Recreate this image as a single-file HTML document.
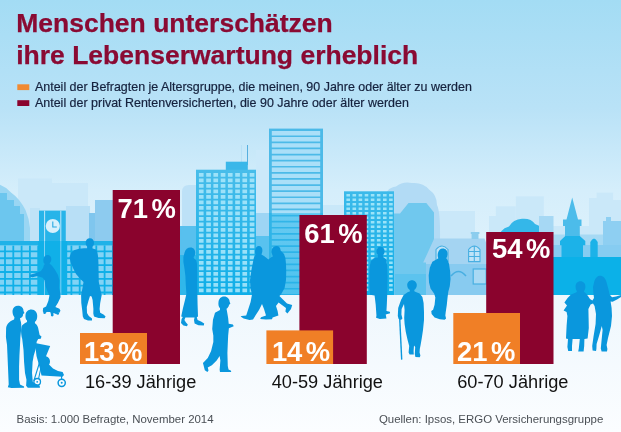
<!DOCTYPE html>
<html lang="de">
<head>
<meta charset="utf-8">
<title>Menschen unterschätzen ihre Lebenserwartung erheblich</title>
<style>
html,body{margin:0;padding:0;background:#fff;}
body{width:621px;height:432px;overflow:hidden;}
svg{display:block;}
text{font-family:"Liberation Sans","DejaVu Sans",sans-serif;}
.t{font-weight:bold;font-size:26.5px;fill:#8a0a33;stroke:#8a0a33;stroke-width:0.25px;}
.lg{font-size:12.46px;fill:#15223e;stroke:#15223e;stroke-width:0.2px;}
.pv{font-weight:bold;font-size:27.4px;fill:#fff;}
.ax{font-size:18.7px;fill:#111;}
.ft{font-size:11.45px;fill:#4a4f55;}
</style>
</head>
<body>
<svg width="621" height="432" viewBox="0 0 621 432">
<defs>
<linearGradient id="sky" x1="0" y1="0" x2="0" y2="432" gradientUnits="userSpaceOnUse">
<stop offset="0" stop-color="#a3dcf4"/>
<stop offset="0.25" stop-color="#b9e2f7"/>
<stop offset="0.44" stop-color="#d5eefb"/>
<stop offset="0.6" stop-color="#dff2fc"/>
<stop offset="1" stop-color="#e6f4fc"/>
</linearGradient>
</defs>
<rect width="621" height="432" fill="url(#sky)"/>
<g id="city">
<rect x="18" y="178.5" width="34" height="120" fill="#cae8f9"/>
<rect x="52" y="183" width="36" height="120" fill="#cae8f9"/>
<rect x="30" y="208" width="10" height="90" fill="#c0e3f7"/>
<rect x="66" y="206" width="24" height="90" fill="#b8dff6"/>
<path d="M182 296 L182 192 Q182 185 189 185 L198 185 L198 296 Z" fill="#bde1f7"/>
<rect x="322" y="205" width="24" height="90" fill="#c9e8f9"/>
<rect x="256" y="150" width="14" height="150" fill="#cbe9fa"/>
<rect x="489" y="216" width="8" height="80" fill="#cae8f9"/>
<rect x="495.8" y="206.3" width="20" height="90" fill="#cae8f9"/>
<rect x="515.8" y="196.3" width="28" height="100" fill="#cae8f9"/>
<rect x="435" y="211" width="40" height="30" fill="#cae8f9"/>
<rect x="589" y="198" width="8" height="100" fill="#cae8f9"/>
<rect x="596.6" y="192.6" width="16.5" height="100" fill="#cae8f9"/>
<rect x="613" y="200" width="8" height="100" fill="#cae8f9"/>
<rect x="553" y="226" width="36" height="30" fill="#cbe8f9"/>
<rect x="553" y="234.5" width="50" height="12" fill="#a6d9f4"/>
<path d="M0 184.7 Q6 187 11 192.4 Q16 196 19 200 Q23 205 25.5 210 Q29 218 30 228 L30 242 L0 242 Z" fill="#9ad6f3"/>
<path d="M0 193 L7 193 L7 200 L14 200 L14 206 L20 206 L20 214 L24 214 L24 242 L0 242 Z" fill="#6cc6ee"/>
<path d="M384.5 240 L384.5 200 Q385 188 396 186.5 Q403 181 412 183 Q423 182 429 189.5 Q437 195 437 205 Q440.5 212 440 240 Z" fill="#b2dbf5"/>
<path d="M498.4 240 Q499 229 509 226.5 Q513 219.5 522 218.8 Q531 218 535 224 Q544 226 544.7 238 L544.7 250 L498.4 250 Z" fill="#34b7e9"/>
<rect x="539" y="216" width="14.5" height="30" fill="#a6d8f4"/>
<rect x="89" y="213" width="8" height="82" fill="#7fc6ee"/>
<rect x="95" y="200" width="18" height="95" fill="#8dcbef"/>
<rect x="180" y="226" width="18" height="70" fill="#58c0ee"/>
<rect x="180" y="255" width="18" height="41" fill="#30b7ea"/>
<rect x="256" y="213" width="14" height="83" fill="#9dd5f4"/>
<rect x="256" y="236" width="14" height="60" fill="#58c2ef"/>
<rect x="603" y="221" width="18" height="75" fill="#8ecff2"/>
<rect x="606" y="217" width="5" height="5" fill="#8ecff2"/>
<path d="M393.8 296 L393.8 213.5 L400 213.5 L408.5 203 L426.3 203 L434 212.5 L434 296 Z" fill="#70c8ee"/>
<rect x="394.7" y="274" width="92" height="22" fill="#5cc3ee"/>
<path d="M423.2 262.6 L434.2 238.6 L484.5 238.6 L486.2 243 L486.2 296 L426 296 L426 262.6 Z" fill="#a4d4f2"/>
<path d="M470.8 231.9 H479.4 V234 H478.5 V239 H471.6 V234 H470.8 Z" fill="#8ccdee"/>
<rect x="426" y="264" width="61" height="32" fill="#88cbf0"/>
<rect x="553" y="256.5" width="68" height="39" fill="#0bb1e8"/>
<rect x="553" y="245" width="68" height="12" fill="#86ccf1"/>
<path d="M572.2 197.5 L578 219.5 L581.5 219.5 L581.5 226 L579.8 226 L579.8 241 L565 241 L565 226 L563 226 L563 219.5 L566.5 219.5 Z" fill="#4cbcea"/>
<path d="M565.3 236 L579.8 236 L585.3 241 L585.3 245.2 L583 245.2 L583 257 L561.5 257 L561.5 245.2 L560 245.2 L560 241 Z" fill="#1cb2e8"/>
<path d="M590.3 257 L590.3 242 Q594 235 597.7 242 L597.7 257 Z" fill="#1cb2e8"/>
<rect x="39" y="210.6" width="26.8" height="85" fill="#27b4e9"/>
<rect x="44.1" y="210.6" width="1" height="85" fill="#bfe6fa"/>
<rect x="60.3" y="210.6" width="1" height="85" fill="#bfe6fa"/>
<circle cx="52.8" cy="226" r="7.1" fill="#d8f0fc"/>
<path d="M52.8 221.4 V227 H56.8" stroke="#27a8e2" stroke-width="1.1" fill="none"/>
<rect x="0" y="241" width="113" height="4.5" fill="#1fb2e8"/>
<rect x="0" y="245.5" width="113" height="49.5" fill="#10b0e8"/>
<path d="M-2.4 245.5h6.5v5.0h-6.5zM5.9 245.5h6.5v5.0h-6.5zM14.2 245.5h6.5v5.0h-6.5zM22.5 245.5h6.5v5.0h-6.5zM30.8 245.5h6.5v5.0h-6.5zM39.1 245.5h6.5v5.0h-6.5zM47.4 245.5h6.5v5.0h-6.5zM55.7 245.5h6.5v5.0h-6.5zM64.0 245.5h6.5v5.0h-6.5zM72.3 245.5h6.5v5.0h-6.5zM80.6 245.5h6.5v5.0h-6.5zM88.9 245.5h6.5v5.0h-6.5zM97.2 245.5h6.5v5.0h-6.5zM105.5 245.5h6.5v5.0h-6.5zM-2.4 252.3h6.5v5.0h-6.5zM5.9 252.3h6.5v5.0h-6.5zM14.2 252.3h6.5v5.0h-6.5zM22.5 252.3h6.5v5.0h-6.5zM30.8 252.3h6.5v5.0h-6.5zM39.1 252.3h6.5v5.0h-6.5zM47.4 252.3h6.5v5.0h-6.5zM55.7 252.3h6.5v5.0h-6.5zM64.0 252.3h6.5v5.0h-6.5zM72.3 252.3h6.5v5.0h-6.5zM80.6 252.3h6.5v5.0h-6.5zM88.9 252.3h6.5v5.0h-6.5zM97.2 252.3h6.5v5.0h-6.5zM105.5 252.3h6.5v5.0h-6.5zM-2.4 259.2h6.5v5.0h-6.5zM5.9 259.2h6.5v5.0h-6.5zM14.2 259.2h6.5v5.0h-6.5zM22.5 259.2h6.5v5.0h-6.5zM30.8 259.2h6.5v5.0h-6.5zM39.1 259.2h6.5v5.0h-6.5zM47.4 259.2h6.5v5.0h-6.5zM55.7 259.2h6.5v5.0h-6.5zM64.0 259.2h6.5v5.0h-6.5zM72.3 259.2h6.5v5.0h-6.5zM80.6 259.2h6.5v5.0h-6.5zM88.9 259.2h6.5v5.0h-6.5zM97.2 259.2h6.5v5.0h-6.5zM105.5 259.2h6.5v5.0h-6.5zM-2.4 266.1h6.5v5.0h-6.5zM5.9 266.1h6.5v5.0h-6.5zM14.2 266.1h6.5v5.0h-6.5zM22.5 266.1h6.5v5.0h-6.5zM30.8 266.1h6.5v5.0h-6.5zM39.1 266.1h6.5v5.0h-6.5zM47.4 266.1h6.5v5.0h-6.5zM55.7 266.1h6.5v5.0h-6.5zM64.0 266.1h6.5v5.0h-6.5zM72.3 266.1h6.5v5.0h-6.5zM80.6 266.1h6.5v5.0h-6.5zM88.9 266.1h6.5v5.0h-6.5zM97.2 266.1h6.5v5.0h-6.5zM105.5 266.1h6.5v5.0h-6.5zM-2.4 272.9h6.5v5.0h-6.5zM5.9 272.9h6.5v5.0h-6.5zM14.2 272.9h6.5v5.0h-6.5zM22.5 272.9h6.5v5.0h-6.5zM30.8 272.9h6.5v5.0h-6.5zM39.1 272.9h6.5v5.0h-6.5zM47.4 272.9h6.5v5.0h-6.5zM55.7 272.9h6.5v5.0h-6.5zM64.0 272.9h6.5v5.0h-6.5zM72.3 272.9h6.5v5.0h-6.5zM80.6 272.9h6.5v5.0h-6.5zM88.9 272.9h6.5v5.0h-6.5zM97.2 272.9h6.5v5.0h-6.5zM105.5 272.9h6.5v5.0h-6.5zM-2.4 279.8h6.5v5.0h-6.5zM5.9 279.8h6.5v5.0h-6.5zM14.2 279.8h6.5v5.0h-6.5zM22.5 279.8h6.5v5.0h-6.5zM30.8 279.8h6.5v5.0h-6.5zM39.1 279.8h6.5v5.0h-6.5zM47.4 279.8h6.5v5.0h-6.5zM55.7 279.8h6.5v5.0h-6.5zM64.0 279.8h6.5v5.0h-6.5zM72.3 279.8h6.5v5.0h-6.5zM80.6 279.8h6.5v5.0h-6.5zM88.9 279.8h6.5v5.0h-6.5zM97.2 279.8h6.5v5.0h-6.5zM105.5 279.8h6.5v5.0h-6.5zM-2.4 286.6h6.5v5.0h-6.5zM5.9 286.6h6.5v5.0h-6.5zM14.2 286.6h6.5v5.0h-6.5zM22.5 286.6h6.5v5.0h-6.5zM30.8 286.6h6.5v5.0h-6.5zM39.1 286.6h6.5v5.0h-6.5zM47.4 286.6h6.5v5.0h-6.5zM55.7 286.6h6.5v5.0h-6.5zM64.0 286.6h6.5v5.0h-6.5zM72.3 286.6h6.5v5.0h-6.5zM80.6 286.6h6.5v5.0h-6.5zM88.9 286.6h6.5v5.0h-6.5zM97.2 286.6h6.5v5.0h-6.5zM105.5 286.6h6.5v5.0h-6.5zM-2.4 293.5h6.5v1.5h-6.5zM5.9 293.5h6.5v1.5h-6.5zM14.2 293.5h6.5v1.5h-6.5zM22.5 293.5h6.5v1.5h-6.5zM30.8 293.5h6.5v1.5h-6.5zM39.1 293.5h6.5v1.5h-6.5zM47.4 293.5h6.5v1.5h-6.5zM55.7 293.5h6.5v1.5h-6.5zM64.0 293.5h6.5v1.5h-6.5zM72.3 293.5h6.5v1.5h-6.5zM80.6 293.5h6.5v1.5h-6.5zM88.9 293.5h6.5v1.5h-6.5zM97.2 293.5h6.5v1.5h-6.5zM105.5 293.5h6.5v1.5h-6.5z" fill="#82d3f5"/>
<rect x="38.2" y="241" width="29" height="55" fill="#10b0e8"/>
<rect x="44" y="241" width="1" height="55" fill="#7fd0f5"/>
<rect x="60.3" y="241" width="1" height="55" fill="#7fd0f5"/>
<linearGradient id="gA" x1="0" y1="0" x2="0" y2="1"><stop offset="0" stop-color="#48bdea"/><stop offset="1" stop-color="#0eaee8"/></linearGradient>
<rect x="241.2" y="145" width="0.5" height="20" fill="#a9d8f2"/>
<rect x="247.1" y="145" width="0.9" height="20" fill="#4aa9dc"/>
<rect x="225.8" y="161.7" width="22" height="9" fill="#3ab7e9"/>
<rect x="196" y="169.7" width="60" height="125.3" fill="url(#gA)"/>
<path d="M198.9 173.0h4.7v3.7h-4.7zM206.2 173.0h4.7v3.7h-4.7zM213.4 173.0h4.7v3.7h-4.7zM220.7 173.0h4.7v3.7h-4.7zM227.9 173.0h4.7v3.7h-4.7zM235.2 173.0h4.7v3.7h-4.7zM242.4 173.0h4.7v3.7h-4.7zM249.7 173.0h4.7v3.7h-4.7zM198.9 178.5h4.7v3.7h-4.7zM206.2 178.5h4.7v3.7h-4.7zM213.4 178.5h4.7v3.7h-4.7zM220.7 178.5h4.7v3.7h-4.7zM227.9 178.5h4.7v3.7h-4.7zM235.2 178.5h4.7v3.7h-4.7zM242.4 178.5h4.7v3.7h-4.7zM249.7 178.5h4.7v3.7h-4.7zM198.9 184.0h4.7v3.7h-4.7zM206.2 184.0h4.7v3.7h-4.7zM213.4 184.0h4.7v3.7h-4.7zM220.7 184.0h4.7v3.7h-4.7zM227.9 184.0h4.7v3.7h-4.7zM235.2 184.0h4.7v3.7h-4.7zM242.4 184.0h4.7v3.7h-4.7zM249.7 184.0h4.7v3.7h-4.7zM198.9 189.5h4.7v3.7h-4.7zM206.2 189.5h4.7v3.7h-4.7zM213.4 189.5h4.7v3.7h-4.7zM220.7 189.5h4.7v3.7h-4.7zM227.9 189.5h4.7v3.7h-4.7zM235.2 189.5h4.7v3.7h-4.7zM242.4 189.5h4.7v3.7h-4.7zM249.7 189.5h4.7v3.7h-4.7zM198.9 195.0h4.7v3.7h-4.7zM206.2 195.0h4.7v3.7h-4.7zM213.4 195.0h4.7v3.7h-4.7zM220.7 195.0h4.7v3.7h-4.7zM227.9 195.0h4.7v3.7h-4.7zM235.2 195.0h4.7v3.7h-4.7zM242.4 195.0h4.7v3.7h-4.7zM249.7 195.0h4.7v3.7h-4.7zM198.9 200.5h4.7v3.7h-4.7zM206.2 200.5h4.7v3.7h-4.7zM213.4 200.5h4.7v3.7h-4.7zM220.7 200.5h4.7v3.7h-4.7zM227.9 200.5h4.7v3.7h-4.7zM235.2 200.5h4.7v3.7h-4.7zM242.4 200.5h4.7v3.7h-4.7zM249.7 200.5h4.7v3.7h-4.7zM198.9 206.0h4.7v3.7h-4.7zM206.2 206.0h4.7v3.7h-4.7zM213.4 206.0h4.7v3.7h-4.7zM220.7 206.0h4.7v3.7h-4.7zM227.9 206.0h4.7v3.7h-4.7zM235.2 206.0h4.7v3.7h-4.7zM242.4 206.0h4.7v3.7h-4.7zM249.7 206.0h4.7v3.7h-4.7zM198.9 211.5h4.7v3.7h-4.7zM206.2 211.5h4.7v3.7h-4.7zM213.4 211.5h4.7v3.7h-4.7zM220.7 211.5h4.7v3.7h-4.7zM227.9 211.5h4.7v3.7h-4.7zM235.2 211.5h4.7v3.7h-4.7zM242.4 211.5h4.7v3.7h-4.7zM249.7 211.5h4.7v3.7h-4.7zM198.9 217.0h4.7v3.7h-4.7zM206.2 217.0h4.7v3.7h-4.7zM213.4 217.0h4.7v3.7h-4.7zM220.7 217.0h4.7v3.7h-4.7zM227.9 217.0h4.7v3.7h-4.7zM235.2 217.0h4.7v3.7h-4.7zM242.4 217.0h4.7v3.7h-4.7zM249.7 217.0h4.7v3.7h-4.7zM198.9 222.5h4.7v3.7h-4.7zM206.2 222.5h4.7v3.7h-4.7zM213.4 222.5h4.7v3.7h-4.7zM220.7 222.5h4.7v3.7h-4.7zM227.9 222.5h4.7v3.7h-4.7zM235.2 222.5h4.7v3.7h-4.7zM242.4 222.5h4.7v3.7h-4.7zM249.7 222.5h4.7v3.7h-4.7zM198.9 228.0h4.7v3.7h-4.7zM206.2 228.0h4.7v3.7h-4.7zM213.4 228.0h4.7v3.7h-4.7zM220.7 228.0h4.7v3.7h-4.7zM227.9 228.0h4.7v3.7h-4.7zM235.2 228.0h4.7v3.7h-4.7zM242.4 228.0h4.7v3.7h-4.7zM249.7 228.0h4.7v3.7h-4.7zM198.9 233.5h4.7v3.7h-4.7zM206.2 233.5h4.7v3.7h-4.7zM213.4 233.5h4.7v3.7h-4.7zM220.7 233.5h4.7v3.7h-4.7zM227.9 233.5h4.7v3.7h-4.7zM235.2 233.5h4.7v3.7h-4.7zM242.4 233.5h4.7v3.7h-4.7zM249.7 233.5h4.7v3.7h-4.7zM198.9 239.0h4.7v3.7h-4.7zM206.2 239.0h4.7v3.7h-4.7zM213.4 239.0h4.7v3.7h-4.7zM220.7 239.0h4.7v3.7h-4.7zM227.9 239.0h4.7v3.7h-4.7zM235.2 239.0h4.7v3.7h-4.7zM242.4 239.0h4.7v3.7h-4.7zM249.7 239.0h4.7v3.7h-4.7zM198.9 244.5h4.7v3.7h-4.7zM206.2 244.5h4.7v3.7h-4.7zM213.4 244.5h4.7v3.7h-4.7zM220.7 244.5h4.7v3.7h-4.7zM227.9 244.5h4.7v3.7h-4.7zM235.2 244.5h4.7v3.7h-4.7zM242.4 244.5h4.7v3.7h-4.7zM249.7 244.5h4.7v3.7h-4.7zM198.9 250.0h4.7v3.7h-4.7zM206.2 250.0h4.7v3.7h-4.7zM213.4 250.0h4.7v3.7h-4.7zM220.7 250.0h4.7v3.7h-4.7zM227.9 250.0h4.7v3.7h-4.7zM235.2 250.0h4.7v3.7h-4.7zM242.4 250.0h4.7v3.7h-4.7zM249.7 250.0h4.7v3.7h-4.7zM198.9 255.5h4.7v3.7h-4.7zM206.2 255.5h4.7v3.7h-4.7zM213.4 255.5h4.7v3.7h-4.7zM220.7 255.5h4.7v3.7h-4.7zM227.9 255.5h4.7v3.7h-4.7zM235.2 255.5h4.7v3.7h-4.7zM242.4 255.5h4.7v3.7h-4.7zM249.7 255.5h4.7v3.7h-4.7zM198.9 261.0h4.7v3.7h-4.7zM206.2 261.0h4.7v3.7h-4.7zM213.4 261.0h4.7v3.7h-4.7zM220.7 261.0h4.7v3.7h-4.7zM227.9 261.0h4.7v3.7h-4.7zM235.2 261.0h4.7v3.7h-4.7zM242.4 261.0h4.7v3.7h-4.7zM249.7 261.0h4.7v3.7h-4.7zM198.9 266.5h4.7v3.7h-4.7zM206.2 266.5h4.7v3.7h-4.7zM213.4 266.5h4.7v3.7h-4.7zM220.7 266.5h4.7v3.7h-4.7zM227.9 266.5h4.7v3.7h-4.7zM235.2 266.5h4.7v3.7h-4.7zM242.4 266.5h4.7v3.7h-4.7zM249.7 266.5h4.7v3.7h-4.7zM198.9 272.0h4.7v3.7h-4.7zM206.2 272.0h4.7v3.7h-4.7zM213.4 272.0h4.7v3.7h-4.7zM220.7 272.0h4.7v3.7h-4.7zM227.9 272.0h4.7v3.7h-4.7zM235.2 272.0h4.7v3.7h-4.7zM242.4 272.0h4.7v3.7h-4.7zM249.7 272.0h4.7v3.7h-4.7zM198.9 277.5h4.7v3.7h-4.7zM206.2 277.5h4.7v3.7h-4.7zM213.4 277.5h4.7v3.7h-4.7zM220.7 277.5h4.7v3.7h-4.7zM227.9 277.5h4.7v3.7h-4.7zM235.2 277.5h4.7v3.7h-4.7zM242.4 277.5h4.7v3.7h-4.7zM249.7 277.5h4.7v3.7h-4.7zM198.9 283.0h4.7v3.7h-4.7zM206.2 283.0h4.7v3.7h-4.7zM213.4 283.0h4.7v3.7h-4.7zM220.7 283.0h4.7v3.7h-4.7zM227.9 283.0h4.7v3.7h-4.7zM235.2 283.0h4.7v3.7h-4.7zM242.4 283.0h4.7v3.7h-4.7zM249.7 283.0h4.7v3.7h-4.7zM198.9 288.5h4.7v3.7h-4.7zM206.2 288.5h4.7v3.7h-4.7zM213.4 288.5h4.7v3.7h-4.7zM220.7 288.5h4.7v3.7h-4.7zM227.9 288.5h4.7v3.7h-4.7zM235.2 288.5h4.7v3.7h-4.7zM242.4 288.5h4.7v3.7h-4.7zM249.7 288.5h4.7v3.7h-4.7z" fill="#a6e6fb" opacity="0.9"/>
<rect x="269" y="128.6" width="54" height="166.4" fill="#4cbae8"/>
<path d="M271.8 131.0h48.4v4.4h-48.4zM271.8 137.1h48.4v4.4h-48.4zM271.8 143.2h48.4v4.4h-48.4zM271.8 149.3h48.4v4.4h-48.4zM271.8 155.4h48.4v4.4h-48.4zM271.8 161.5h48.4v4.4h-48.4zM271.8 167.6h48.4v4.4h-48.4zM271.8 173.7h48.4v4.4h-48.4zM271.8 179.8h48.4v4.4h-48.4zM271.8 185.9h48.4v4.4h-48.4zM271.8 192.0h48.4v4.4h-48.4zM271.8 198.1h48.4v4.4h-48.4zM271.8 204.2h48.4v4.4h-48.4zM271.8 210.3h48.4v4.4h-48.4zM271.8 216.4h48.4v4.4h-48.4zM271.8 222.5h48.4v4.4h-48.4zM271.8 228.6h48.4v4.4h-48.4zM271.8 234.7h48.4v4.4h-48.4zM271.8 240.8h48.4v4.4h-48.4zM271.8 246.9h48.4v4.4h-48.4zM271.8 253.0h48.4v4.4h-48.4zM271.8 259.1h48.4v4.4h-48.4zM271.8 265.2h48.4v4.4h-48.4zM271.8 271.3h48.4v4.4h-48.4zM271.8 277.4h48.4v4.4h-48.4zM271.8 283.5h48.4v4.4h-48.4zM271.8 289.6h48.4v4.4h-48.4z" fill="#aadff8"/>
<linearGradient id="gS" x1="0" y1="0" x2="0" y2="1"><stop offset="0" stop-color="#0eaee8" stop-opacity="0"/><stop offset="0.505" stop-color="#0eaee8" stop-opacity="0"/><stop offset="0.51" stop-color="#0eaee8" stop-opacity="0.42"/><stop offset="1" stop-color="#0eaee8" stop-opacity="0.6"/></linearGradient>
<rect x="269" y="128.6" width="54" height="166.4" fill="url(#gS)"/>
<linearGradient id="gB" x1="0" y1="0" x2="0" y2="1"><stop offset="0" stop-color="#3cbaea"/><stop offset="1" stop-color="#0eaee8"/></linearGradient>
<rect x="344" y="191.3" width="50" height="103.7" fill="url(#gB)"/>
<path d="M346.4 194.0h3.6v2.6h-3.6zM352.5 194.0h3.6v2.6h-3.6zM358.6 194.0h3.6v2.6h-3.6zM364.7 194.0h3.6v2.6h-3.6zM370.8 194.0h3.6v2.6h-3.6zM376.9 194.0h3.6v2.6h-3.6zM383.0 194.0h3.6v2.6h-3.6zM389.1 194.0h3.6v2.6h-3.6zM346.4 198.5h3.6v2.6h-3.6zM352.5 198.5h3.6v2.6h-3.6zM358.6 198.5h3.6v2.6h-3.6zM364.7 198.5h3.6v2.6h-3.6zM370.8 198.5h3.6v2.6h-3.6zM376.9 198.5h3.6v2.6h-3.6zM383.0 198.5h3.6v2.6h-3.6zM389.1 198.5h3.6v2.6h-3.6zM346.4 203.0h3.6v2.6h-3.6zM352.5 203.0h3.6v2.6h-3.6zM358.6 203.0h3.6v2.6h-3.6zM364.7 203.0h3.6v2.6h-3.6zM370.8 203.0h3.6v2.6h-3.6zM376.9 203.0h3.6v2.6h-3.6zM383.0 203.0h3.6v2.6h-3.6zM389.1 203.0h3.6v2.6h-3.6zM346.4 207.5h3.6v2.6h-3.6zM352.5 207.5h3.6v2.6h-3.6zM358.6 207.5h3.6v2.6h-3.6zM364.7 207.5h3.6v2.6h-3.6zM370.8 207.5h3.6v2.6h-3.6zM376.9 207.5h3.6v2.6h-3.6zM383.0 207.5h3.6v2.6h-3.6zM389.1 207.5h3.6v2.6h-3.6zM346.4 212.0h3.6v2.6h-3.6zM352.5 212.0h3.6v2.6h-3.6zM358.6 212.0h3.6v2.6h-3.6zM364.7 212.0h3.6v2.6h-3.6zM370.8 212.0h3.6v2.6h-3.6zM376.9 212.0h3.6v2.6h-3.6zM383.0 212.0h3.6v2.6h-3.6zM389.1 212.0h3.6v2.6h-3.6zM346.4 216.5h3.6v2.6h-3.6zM352.5 216.5h3.6v2.6h-3.6zM358.6 216.5h3.6v2.6h-3.6zM364.7 216.5h3.6v2.6h-3.6zM370.8 216.5h3.6v2.6h-3.6zM376.9 216.5h3.6v2.6h-3.6zM383.0 216.5h3.6v2.6h-3.6zM389.1 216.5h3.6v2.6h-3.6zM346.4 221.0h3.6v2.6h-3.6zM352.5 221.0h3.6v2.6h-3.6zM358.6 221.0h3.6v2.6h-3.6zM364.7 221.0h3.6v2.6h-3.6zM370.8 221.0h3.6v2.6h-3.6zM376.9 221.0h3.6v2.6h-3.6zM383.0 221.0h3.6v2.6h-3.6zM389.1 221.0h3.6v2.6h-3.6zM346.4 225.5h3.6v2.6h-3.6zM352.5 225.5h3.6v2.6h-3.6zM358.6 225.5h3.6v2.6h-3.6zM364.7 225.5h3.6v2.6h-3.6zM370.8 225.5h3.6v2.6h-3.6zM376.9 225.5h3.6v2.6h-3.6zM383.0 225.5h3.6v2.6h-3.6zM389.1 225.5h3.6v2.6h-3.6zM346.4 230.0h3.6v2.6h-3.6zM352.5 230.0h3.6v2.6h-3.6zM358.6 230.0h3.6v2.6h-3.6zM364.7 230.0h3.6v2.6h-3.6zM370.8 230.0h3.6v2.6h-3.6zM376.9 230.0h3.6v2.6h-3.6zM383.0 230.0h3.6v2.6h-3.6zM389.1 230.0h3.6v2.6h-3.6zM346.4 234.5h3.6v2.6h-3.6zM352.5 234.5h3.6v2.6h-3.6zM358.6 234.5h3.6v2.6h-3.6zM364.7 234.5h3.6v2.6h-3.6zM370.8 234.5h3.6v2.6h-3.6zM376.9 234.5h3.6v2.6h-3.6zM383.0 234.5h3.6v2.6h-3.6zM389.1 234.5h3.6v2.6h-3.6zM346.4 239.0h3.6v2.6h-3.6zM352.5 239.0h3.6v2.6h-3.6zM358.6 239.0h3.6v2.6h-3.6zM364.7 239.0h3.6v2.6h-3.6zM370.8 239.0h3.6v2.6h-3.6zM376.9 239.0h3.6v2.6h-3.6zM383.0 239.0h3.6v2.6h-3.6zM389.1 239.0h3.6v2.6h-3.6zM346.4 243.5h3.6v2.6h-3.6zM352.5 243.5h3.6v2.6h-3.6zM358.6 243.5h3.6v2.6h-3.6zM364.7 243.5h3.6v2.6h-3.6zM370.8 243.5h3.6v2.6h-3.6zM376.9 243.5h3.6v2.6h-3.6zM383.0 243.5h3.6v2.6h-3.6zM389.1 243.5h3.6v2.6h-3.6zM346.4 248.0h3.6v2.6h-3.6zM352.5 248.0h3.6v2.6h-3.6zM358.6 248.0h3.6v2.6h-3.6zM364.7 248.0h3.6v2.6h-3.6zM370.8 248.0h3.6v2.6h-3.6zM376.9 248.0h3.6v2.6h-3.6zM383.0 248.0h3.6v2.6h-3.6zM389.1 248.0h3.6v2.6h-3.6zM346.4 252.5h3.6v2.6h-3.6zM352.5 252.5h3.6v2.6h-3.6zM358.6 252.5h3.6v2.6h-3.6zM364.7 252.5h3.6v2.6h-3.6zM370.8 252.5h3.6v2.6h-3.6zM376.9 252.5h3.6v2.6h-3.6zM383.0 252.5h3.6v2.6h-3.6zM389.1 252.5h3.6v2.6h-3.6zM346.4 257.0h3.6v2.6h-3.6zM352.5 257.0h3.6v2.6h-3.6zM358.6 257.0h3.6v2.6h-3.6zM364.7 257.0h3.6v2.6h-3.6zM370.8 257.0h3.6v2.6h-3.6zM376.9 257.0h3.6v2.6h-3.6zM383.0 257.0h3.6v2.6h-3.6zM389.1 257.0h3.6v2.6h-3.6zM346.4 261.5h3.6v2.6h-3.6zM352.5 261.5h3.6v2.6h-3.6zM358.6 261.5h3.6v2.6h-3.6zM364.7 261.5h3.6v2.6h-3.6zM370.8 261.5h3.6v2.6h-3.6zM376.9 261.5h3.6v2.6h-3.6zM383.0 261.5h3.6v2.6h-3.6zM389.1 261.5h3.6v2.6h-3.6zM346.4 266.0h3.6v2.6h-3.6zM352.5 266.0h3.6v2.6h-3.6zM358.6 266.0h3.6v2.6h-3.6zM364.7 266.0h3.6v2.6h-3.6zM370.8 266.0h3.6v2.6h-3.6zM376.9 266.0h3.6v2.6h-3.6zM383.0 266.0h3.6v2.6h-3.6zM389.1 266.0h3.6v2.6h-3.6zM346.4 270.5h3.6v2.6h-3.6zM352.5 270.5h3.6v2.6h-3.6zM358.6 270.5h3.6v2.6h-3.6zM364.7 270.5h3.6v2.6h-3.6zM370.8 270.5h3.6v2.6h-3.6zM376.9 270.5h3.6v2.6h-3.6zM383.0 270.5h3.6v2.6h-3.6zM389.1 270.5h3.6v2.6h-3.6zM346.4 275.0h3.6v2.6h-3.6zM352.5 275.0h3.6v2.6h-3.6zM358.6 275.0h3.6v2.6h-3.6zM364.7 275.0h3.6v2.6h-3.6zM370.8 275.0h3.6v2.6h-3.6zM376.9 275.0h3.6v2.6h-3.6zM383.0 275.0h3.6v2.6h-3.6zM389.1 275.0h3.6v2.6h-3.6zM346.4 279.5h3.6v2.6h-3.6zM352.5 279.5h3.6v2.6h-3.6zM358.6 279.5h3.6v2.6h-3.6zM364.7 279.5h3.6v2.6h-3.6zM370.8 279.5h3.6v2.6h-3.6zM376.9 279.5h3.6v2.6h-3.6zM383.0 279.5h3.6v2.6h-3.6zM389.1 279.5h3.6v2.6h-3.6zM346.4 284.0h3.6v2.6h-3.6zM352.5 284.0h3.6v2.6h-3.6zM358.6 284.0h3.6v2.6h-3.6zM364.7 284.0h3.6v2.6h-3.6zM370.8 284.0h3.6v2.6h-3.6zM376.9 284.0h3.6v2.6h-3.6zM383.0 284.0h3.6v2.6h-3.6zM389.1 284.0h3.6v2.6h-3.6zM346.4 288.5h3.6v2.6h-3.6zM352.5 288.5h3.6v2.6h-3.6zM358.6 288.5h3.6v2.6h-3.6zM364.7 288.5h3.6v2.6h-3.6zM370.8 288.5h3.6v2.6h-3.6zM376.9 288.5h3.6v2.6h-3.6zM383.0 288.5h3.6v2.6h-3.6zM389.1 288.5h3.6v2.6h-3.6z" fill="#a6e8fb" opacity="0.9"/>
<path d="M468.6 261.6 V249.5 Q474.3 242.5 480 249.5 V261.6 Z M474.3 246.5 V261.6 M468.6 251.5 H480 M468.6 256.5 H480" fill="#bfe3f7" stroke="#48afe2" stroke-width="1.1"/>
<path d="M436 261.6 V249.5 Q442 242.5 448 249.5 V261.6 Z" fill="#bfe3f7" stroke="#48afe2" stroke-width="1.1"/>
<rect x="473.2" y="269" width="13" height="15" fill="#a9d9f4" stroke="#48afe2" stroke-width="1.2"/>
<path d="M451 276 Q458.5 267 466 276" fill="none" stroke="#48afe2" stroke-width="1.5"/>
<linearGradient id="gG" x1="0" y1="0" x2="0" y2="1"><stop offset="0" stop-color="#eef7fd"/><stop offset="1" stop-color="#fbfdff"/></linearGradient>
<rect x="0" y="295" width="621" height="137" fill="url(#gG)"/>
</g>
<g id="people" fill="#0a97dd">
<g transform="translate(0,302) scale(0.18519)"><path d="M97 20 C115 20 127 32 127 48 L132 60 L125 65 C125 78 116 86 108 88 L110 98 C116 112 116 130 114 150 L110 190 L108 232 L105 290 L103 350 L103 420 L108 446 L130 456 L130 463 L62 464 L42 461 L47 446 L46 420 L43 350 L40 280 L38 232 L32 190 L33 140 C37 118 50 104 76 94 L78 82 C70 72 66 56 68 44 C70 30 82 20 97 20 Z"/>
<path d="M170 40 C190 40 201 56 201 76 C201 92 196 104 188 108 L190 116 C200 122 206 134 208 150 L214 178 L224 186 L220 198 L206 200 L198 215 L194 250 L182 290 L176 324 L173 383 L177 430 L192 441 L214 451 L216 463 L150 463 L141 452 L143 420 L135 383 L130 324 L127 259 L120 200 C112 170 112 140 120 126 C128 116 140 112 146 108 L146 100 C138 94 136 82 138 68 C140 52 152 40 170 40 Z"/></g>
<path d="M35 343 L50.2 346 L46 356.3 Q50 357.5 50 361.5 Q50 363.5 49 364.5 L53 368.5 L58 371 L62.6 372 L64 375 L62.5 376.8 L41.5 375.5 L39.8 368 L36.5 356 Z"/>
<path d="M40 361 L33.8 381 M41.5 365 L38.5 379 M61.5 376 L61.7 380" fill="none" stroke="#0a97dd" stroke-width="1.1"/>
<circle cx="37.2" cy="381.8" r="3.3" fill="none" stroke="#0a97dd" stroke-width="1.3"/>
<circle cx="61.7" cy="382.8" r="3.6" fill="none" stroke="#0a97dd" stroke-width="1.5"/>
<circle cx="61.7" cy="382.8" r="1"/><circle cx="37.2" cy="381.8" r="0.9"/>
<g transform="translate(15,238) scale(0.18519)"><path d="M175 92 C190 92 198 104 196 118 C195 128 190 134 186 138 L200 150 L215 170 L232 200 L240 230 L238 270 L245 300 L246 320 L232 350 L218 372 L240 382 L246 394 L230 402 L224 412 L212 406 L190 400 L175 398 L160 406 L150 396 L152 378 L168 370 L180 340 L186 310 L176 290 L165 260 L160 230 L150 215 L120 205 L95 212 L78 208 L82 198 L110 190 L140 178 L152 160 L158 140 C152 130 152 118 155 108 C160 96 166 92 175 92 Z"/></g>
<path d="M43.2 309.4 L59.8 310.6 L60 312.4 L43.4 311.6 Z"/>
<circle cx="44.6" cy="312.8" r="1.3"/><circle cx="52.2" cy="315" r="1.4"/><circle cx="57.8" cy="313.4" r="1.3"/>
<path d="M50 311 L54 311.5 L53 314.5 L51 314.5 Z"/>
<path d="M89.8 238.3 C92.5 238.3 94 240.3 94 242.8 C94 244.8 93.2 246.2 92.4 246.8 L92.6 248.4 L96 249.6 C97.6 252 98.2 256 98.4 262 L98.6 272 L98.8 282 L100.5 290 L101.7 295 L100.2 303 L99.6 309 L100.2 312.8 L103.5 314.4 L105.6 316.6 L104.6 318.2 L98.5 318 L94 316.6 L93.3 313.5 L93.4 309 L92.6 300 L91.6 296.5 L90 296 L88.4 301 L86.8 307 L87 313 L88.8 316 L92 318.6 L92 320.4 L88 320.4 L84 319 L82.8 316.5 L82.3 311 L81.3 303 L81.1 295 L82.5 288 L83.5 282 L80 278.5 L76 274 L73 268 L70.5 262 L69.6 257 L71 253 L74 250.3 L79 248.8 L84 248.3 L87.3 248.2 L87.4 246.8 C86.4 246 85.7 244.6 85.7 242.8 C85.7 240.3 87.2 238.3 89.8 238.3 Z"/>
<path d="M190.5 247.6 C193.5 247.6 195.2 249.8 195.2 252.6 C195.2 254.6 194.6 256.2 193.6 257 L194 258.6 L196.2 260 L197 264 L197.2 275 L197 285 L197.4 295 L197.6 305 L198 316.6 L196.8 317.2 L197.6 320 L201 321.6 L204.2 323.6 L203.8 325.4 L198.5 325.2 L194.6 323.6 L194 320 L194.6 317.4 L188 317.6 L185.4 317.4 L184.4 320 L186 322.6 L187.8 324.4 L187 326.2 L183.4 325.6 L181 323 L181.6 319 L182.8 317 L181.2 316.6 L183 308 L185 300 L186.4 294 L185.8 285 L185.4 276 L184.4 268 L183.4 262 L183.4 257 L184.6 252.4 C185.6 249.4 187.6 247.6 190.5 247.6 Z"/>
<g transform="translate(170,292) scale(0.18519)"><path d="M292 24 C311 24 322 38 322 53 L326 63 L319 69 C317 80 311 88 305 91 L307 100 L314 140 L317 172 L340 176 L344 185 L318 196 L314 236 L312 280 L310 330 L312 400 L316 418 L330 425 L330 432 L270 432 L268 420 L272 370 L268 345 L252 370 L226 395 L204 408 L208 424 L202 432 L188 422 L178 384 L204 356 L222 318 L234 270 L234 236 L228 200 L232 150 L243 112 L270 97 L270 88 C262 80 260 66 262 52 C264 38 274 24 292 24 Z"/></g>
<path d="M258.8 246 C261 246 262.4 247.8 262.4 250 C262.4 252 262 253.4 261.4 254.4 L264 256 L266.6 258 L268.3 259.6 L270.2 258 L272.6 256.4 L272 254 C271.4 252.6 271.4 250.6 272 249 C273 247 274.6 246 276.4 246 C279 246 280.6 248 280.6 250.6 L284 254 L285.4 258 L286 264 L286.2 272 L286 280 L284.6 288 L281 294.4 L279.4 296 L287 303.6 L292.2 305 L291 309 L287.4 313.4 L285.4 311.6 L286 308 L278.6 302.6 L276 306 L277.6 311 L278.4 315.6 L272.6 317.6 L272 319.2 L266 319.6 L260.2 319 L261 317.2 L266 315.6 L264 309 L262 304 L259 310 L253 319.4 L249.6 320 L243.6 318.4 L240.6 316.6 L241.6 316 L246.2 315.6 L248 310 L250.6 302 L252 294.4 L250.4 288 L250 280 L251.6 269 L253.8 258 L255.6 254.6 C255 253.4 254.8 251.6 255.2 250 C255.8 247.6 257 246 258.8 246 Z"/>
<g transform="translate(362,240) scale(0.18519)"><path d="M100 36 C114 36 122 46 122 60 C122 72 118 80 112 84 L114 92 L130 104 L136 140 L138 200 L136 260 L136 300 L134 350 L132 384 L150 388 L152 396 L128 402 L130 412 L132 424 L96 426 L76 420 L78 408 L74 350 L68 300 L44 296 L40 240 L40 160 L46 116 L62 100 L86 92 L86 84 C80 78 78 70 78 60 C78 46 86 36 100 36 Z"/></g>
<path d="M412 280.2 C414.8 280.2 416.8 282.4 416.8 285 C416.8 287.4 415.6 289.2 414.2 290 L414.6 291.6 L419.6 293.6 L422.4 297 L423.6 303 L424 312 L424 320 L423 330 L421.8 338 L420.6 345 L419.8 349 L419.6 352.6 L420.4 355.4 L419.8 357.2 L415.4 357 L414.8 354 L415.2 347 L414 345.6 L413.6 351 L413.8 354.4 L409.6 354.6 L408.6 352.6 L409.2 346 L407.6 340 L405.8 332 L404.6 324 L404.2 318 L404.6 310 L404 304 L401.6 309 L401.4 314.6 L402.4 318.6 L401 320 L398.6 319 L397.8 316 L398.2 308 L401 300 L403.6 295 L408 292 L409.8 291.4 L409.8 290 C408.2 289 407.2 287.2 407.2 285 C407.2 282.4 409.2 280.2 412 280.2 Z"/>
<path d="M399.7 318 L401.7 359.6" fill="none" stroke="#0a97dd" stroke-width="1.4"/>
<g transform="translate(362,240) scale(0.18519)"><path d="M436 46 C452 46 462 58 462 74 C462 84 460 92 456 98 L462 108 L470 130 L476 170 L478 210 L474 250 L466 280 L462 310 L458 350 L452 390 L450 408 L454 424 L446 430 L420 428 L392 418 L376 400 L374 384 L384 376 L392 350 L396 310 L390 290 L370 262 L362 230 L360 190 L366 150 L380 118 L404 104 L412 98 C408 90 408 80 410 70 C414 56 422 46 436 46 Z"/></g>
<path d="M580.4 281.2 C583.4 281.2 585.4 283.6 585.4 286.6 C585.4 288.6 584.8 290.4 583.8 291.6 L586 293.4 L588 296 L590 299 L592.4 300.6 L594 298 L593.4 293 L593 287 L594.4 281 C595.6 277.8 597.6 275.8 600 275.8 C603 275.8 605.6 278.4 606.6 282.4 L608.4 289 L609.6 294.6 L612 297.2 L616 296.6 L621 295 L621 297 L617 299.4 L612.6 301.8 L610.6 301.4 L611.6 308 L612 316 L611 326 L608 338 L606.6 345 L607.4 349 L607 351.6 L601.6 351.4 L600.8 348.6 L601.6 340 L602.6 330 L601.8 326 L599 336 L596.6 344 L596.4 349 L596 351 L592.6 350.6 L592.2 346 L593.6 336 L595.6 324 L596 314 L594.6 306 L593 303.4 L590.6 304.6 L588.4 309 L588.6 318 L588.8 328 L587.6 338.6 L584.4 339 L584.2 346 L583.6 351.4 L578.2 351.4 L578.8 348.6 L579.8 339 L572.6 339 L572 346 L572 351 L568.2 351 L567.4 347 L568 339 L566 338.4 L566.6 326 L567.4 316 L566.6 312 L563.6 310.4 L567 305.6 L564.4 302.4 L567.6 298 L571 294.4 L576 292.6 L577 291.4 C576 290.2 575.6 288.4 575.6 286.6 C575.6 283.6 577.4 281.2 580.4 281.2 Z"/>
</g>
<g id="bars">
<rect x="112.7" y="190" width="67.3" height="174" fill="#8a032d"/>
<rect x="80" y="333" width="67" height="31" fill="#f07f26"/>
<rect x="299.4" y="215" width="67.4" height="149" fill="#8a032d"/>
<rect x="266.4" y="330.4" width="66.7" height="33.6" fill="#f07f26"/>
<rect x="486.2" y="232" width="67.3" height="132" fill="#8a032d"/>
<rect x="453.3" y="313" width="66.7" height="51" fill="#f07f26"/>
</g>
<g id="labels">
<text class="t" x="16.2" y="32.1">Menschen unterschätzen</text>
<text class="t" x="16.2" y="64.4">ihre Lebenserwartung erheblich</text>
<rect x="17.3" y="84.3" width="12" height="5.8" fill="#f08a32"/>
<rect x="17.3" y="100.2" width="12" height="5.8" fill="#8a032d"/>
<text class="lg" x="35" y="90.7">Anteil der Befragten je Altersgruppe, die meinen, 90 Jahre oder älter zu werden</text>
<text class="lg" x="35" y="106.7">Anteil der privat Rentenversicherten, die 90 Jahre oder älter werden</text>
<text class="pv" x="117.6" y="218.2">71<tspan dx="-4.2"> %</tspan></text>
<text class="pv" x="84" y="361">13<tspan dx="-4.2"> %</tspan></text>
<text class="pv" x="304.3" y="242.8">61<tspan dx="-4.2"> %</tspan></text>
<text class="pv" x="271.9" y="361">14<tspan dx="-4.2"> %</tspan></text>
<text class="pv" x="492" y="258.4">54<tspan dx="-4.2"> %</tspan></text>
<text class="pv" x="457" y="361">21<tspan dx="-4.2"> %</tspan></text>
<text class="ax" x="85" y="387.9" textLength="111.3" lengthAdjust="spacingAndGlyphs">16-39 Jährige</text>
<text class="ax" x="271.7" y="387.9" textLength="111.3" lengthAdjust="spacingAndGlyphs">40-59 Jährige</text>
<text class="ax" x="457.2" y="387.9" textLength="111.3" lengthAdjust="spacingAndGlyphs">60-70 Jährige</text>
<text class="ft" x="16.5" y="423.3">Basis: 1.000 Befragte, November 2014</text>
<text class="ft" x="603.3" y="423.3" text-anchor="end">Quellen: Ipsos, ERGO Versicherungsgruppe</text>
</g>
</svg>
</body>
</html>
